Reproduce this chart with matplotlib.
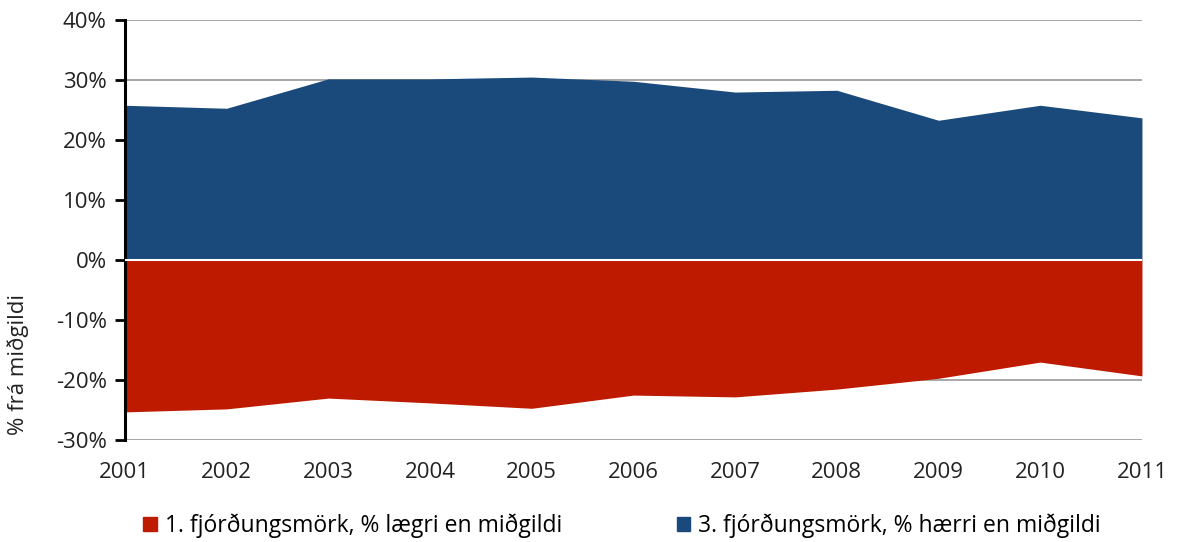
import matplotlib
matplotlib.use("Agg")
import matplotlib.pyplot as plt
from matplotlib.ticker import FuncFormatter
from matplotlib.patches import Patch

years = [2001, 2002, 2003, 2004, 2005, 2006, 2007, 2008, 2009, 2010, 2011]
upper = [25.8, 25.3, 30.2, 30.2, 30.5, 29.8, 28.0, 28.3, 23.3, 25.8, 23.7]
lower = [-25.3, -24.8, -23.0, -23.8, -24.7, -22.5, -22.8, -21.5, -19.7, -17.0, -19.3]
label_lower = "1. fjórðungsmörk, % lægri en miðgildi"
label_upper = "3. fjórðungsmörk, % hærri en miðgildi"
ylabel = "% frá miðgildi"

blue = "#1A4A7C"
red = "#BE1A00"

plt.rcParams['font.family'] = ['Open Sans', 'DejaVu Sans']

fig = plt.figure(figsize=(11.78, 5.42), dpi=100)
ax = fig.add_axes([0.106, 0.188, 0.9694 - 0.106, 0.963 - 0.188])

ax.set_ylim(-30, 40)
ax.set_xlim(years[0], years[-1])
ax.set_yticks(range(-30, 41, 10))
ax.yaxis.set_major_formatter(FuncFormatter(lambda v, p: f"{int(v)}%"))
ax.grid(axis='y', color='#a0a0a0', linewidth=1.3, zorder=0)
ax.set_axisbelow(True)

ax.fill_between(years, 0, upper, color=blue, linewidth=0, zorder=2)
ax.fill_between(years, lower, 0, color=red, linewidth=0, zorder=2)
ax.axhline(0, color='white', linewidth=1.5, zorder=3)

for s in ['top', 'right', 'bottom']:
    ax.spines[s].set_visible(False)
ax.spines['left'].set_linewidth(2.2)
ax.spines['left'].set_color('black')
ax.tick_params(axis='y', direction='out', length=7, width=2, labelsize=16, colors='black', pad=6)
ax.tick_params(axis='x', length=0, labelsize=16, pad=16)
ax.set_xticks(years)
ax.set_xticklabels([str(y) for y in years])
for t in ax.get_yticklabels() + ax.get_xticklabels():
    t.set_color('#222222')

ax.set_ylabel(ylabel, fontsize=16, color='#222222')
ax.yaxis.set_label_coords(-0.094, 0.18)

handles = [Patch(color=red, label=label_lower), Patch(color=blue, label=label_upper)]
fig.legend(handles=handles, loc='center', bbox_to_anchor=(0.528, 0.03), ncol=2,
           frameon=False, fontsize=16.5, handlelength=0.6, handleheight=0.6,
           handletextpad=0.35, columnspacing=5)

fig.savefig("out.png", dpi=100)
